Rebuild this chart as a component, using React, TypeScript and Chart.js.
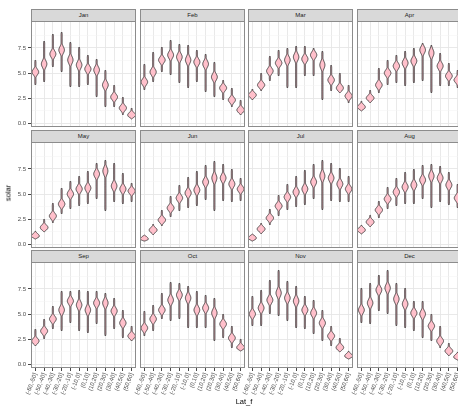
import React, { useEffect, useRef } from "react";
import { Chart, registerables } from "chart.js";

Chart.register(...registerables);

// ---------- categories / labels ----------
const MONTHS = ["Jan", "Feb", "Mar", "Apr", "May", "Jun", "Jul", "Aug", "Sep", "Oct", "Nov", "Dec"];
const LAT_LABELS = [
  "(-60,-50]", "(-50,-40]", "(-40,-30]", "(-30,-20]", "(-20,-10]", "(-10,0]",
  "(0,10]", "(10,20]", "(20,30]", "(30,40]", "(40,50]", "(50,60]",
];
const Y_MAJOR = [0, 2.5, 5, 7.5];
const Y_MINOR = [1.25, 3.75, 6.25, 8.75];
const Y_MIN = -0.4;
const Y_MAX = 10.2;

// ---------- violin values per month: lower end, bulge centre, upper end ----------
const JAN_LO = [3.8, 4.1, 5.6, 5.1, 3.6, 3.6, 3.8, 2.6, 1.6, 1.6, 0.8, 0.4];
const JAN_MID = [5.1, 5.9, 6.9, 7.3, 6.3, 5.8, 5.4, 5.3, 3.8, 2.6, 1.5, 0.8];
const JAN_HI = [6.3, 8.2, 8.9, 9.1, 8.1, 7.6, 6.8, 6.4, 5.3, 3.8, 2.6, 1.5];

const FEB_LO = [3.3, 4.1, 5.1, 4.8, 4.0, 3.5, 4.1, 3.1, 2.6, 2.3, 1.6, 0.8];
const FEB_MID = [4.1, 5.1, 6.3, 6.8, 6.6, 6.3, 6.1, 5.9, 4.6, 3.5, 2.3, 1.3];
const FEB_HI = [5.9, 7.1, 7.6, 8.3, 7.9, 7.8, 7.3, 6.9, 6.1, 4.3, 3.5, 2.3];

const MAR_LO = [2.3, 3.2, 4.2, 4.7, 3.5, 3.5, 4.7, 4.7, 2.3, 3.2, 3.0, 2.0];
const MAR_MID = [2.8, 3.8, 5.2, 6.0, 6.3, 6.6, 6.4, 6.8, 5.8, 4.3, 3.5, 2.7];
const MAR_HI = [3.4, 5.0, 6.7, 7.3, 7.5, 7.7, 7.7, 7.5, 7.2, 5.8, 5.0, 3.8];

const APR_LO = [1.2, 2.0, 3.0, 3.8, 4.0, 3.7, 4.0, 4.2, 3.0, 3.7, 3.7, 3.5];
const APR_MID = [1.6, 2.5, 3.8, 5.0, 5.7, 6.0, 6.2, 7.3, 7.0, 5.7, 4.7, 4.3];
const APR_HI = [2.2, 3.3, 5.5, 6.3, 6.8, 7.2, 7.5, 8.0, 7.8, 7.0, 6.0, 5.3];

const MAY_LO = [0.5, 1.2, 2.1, 3.0, 3.5, 3.8, 4.0, 4.5, 3.3, 4.2, 4.0, 4.2];
const MAY_MID = [0.8, 1.65, 2.8, 4.0, 5.0, 5.5, 5.6, 7.0, 7.3, 5.8, 5.5, 5.3];
const MAY_HI = [1.3, 2.5, 4.1, 5.6, 6.3, 6.8, 7.3, 8.1, 8.4, 8.1, 7.1, 6.1];

const JUN_LO = [0.3, 0.9, 1.8, 2.7, 3.3, 3.6, 3.8, 4.4, 3.3, 4.3, 4.2, 4.3];
const JUN_MID = [0.5, 1.4, 2.4, 3.6, 4.6, 5.1, 5.4, 6.2, 6.6, 6.6, 6.0, 5.5];
const JUN_HI = [0.9, 2.0, 3.4, 4.8, 5.9, 6.7, 7.3, 7.9, 8.3, 8.0, 7.5, 6.6];

const JUL_LO = [0.3, 1.0, 1.9, 2.8, 3.4, 3.7, 3.9, 4.5, 3.4, 4.3, 4.2, 4.2];
const JUL_MID = [0.6, 1.5, 2.6, 3.8, 4.7, 5.2, 5.5, 6.2, 6.8, 6.6, 6.0, 5.5];
const JUL_HI = [1.0, 2.1, 3.5, 4.9, 6.0, 6.8, 7.4, 8.0, 8.4, 8.1, 7.6, 6.8];

const AUG_LO = [1.0, 1.7, 2.6, 3.5, 3.8, 4.0, 4.0, 4.5, 3.6, 4.2, 3.9, 3.6];
const AUG_MID = [1.4, 2.2, 3.4, 4.5, 5.2, 5.7, 5.9, 6.4, 6.8, 6.6, 5.9, 4.6];
const AUG_HI = [1.9, 2.9, 4.3, 5.7, 6.6, 7.2, 7.5, 7.9, 8.0, 7.8, 7.2, 6.0];

const SEP_LO = [1.8, 2.5, 3.5, 3.3, 4.1, 3.3, 3.1, 4.0, 2.8, 3.5, 2.6, 2.3];
const SEP_MID = [2.3, 3.3, 4.5, 5.4, 6.3, 5.9, 5.4, 6.1, 6.1, 5.3, 4.1, 2.8];
const SEP_HI = [3.5, 4.5, 5.8, 7.3, 7.3, 7.4, 7.3, 7.3, 7.1, 6.6, 5.4, 3.8];

const OCT_LO = [2.8, 3.3, 4.5, 4.3, 4.5, 3.6, 3.6, 3.6, 2.3, 2.6, 1.6, 1.3];
const OCT_MID = [3.6, 4.5, 5.4, 6.4, 6.9, 6.6, 5.4, 5.6, 5.1, 4.0, 2.6, 1.65];
const OCT_HI = [5.3, 5.9, 7.1, 8.2, 8.1, 7.8, 7.3, 6.9, 6.6, 5.0, 3.8, 2.5];

const NOV_LO = [3.8, 3.8, 5.0, 4.8, 4.3, 3.6, 3.5, 3.0, 2.3, 1.8, 1.2, 0.5];
const NOV_MID = [5.0, 5.6, 6.4, 7.1, 6.6, 6.3, 5.4, 5.1, 4.1, 2.8, 1.65, 0.8];
const NOV_HI = [6.8, 7.4, 8.4, 9.4, 8.3, 7.8, 6.8, 6.4, 5.4, 3.8, 2.6, 1.3];

const DEC_LO = [4.1, 4.0, 5.3, 5.0, 3.8, 3.6, 3.3, 2.6, 2.3, 1.6, 0.8, 0.4];
const DEC_MID = [5.4, 6.1, 7.4, 7.6, 6.5, 6.0, 5.1, 5.0, 3.8, 2.3, 1.3, 0.7];
const DEC_HI = [7.6, 8.1, 8.9, 9.4, 8.1, 7.6, 6.3, 6.3, 5.0, 3.8, 2.1, 1.2];

const MONTH_TABLE = [
  [JAN_LO, JAN_MID, JAN_HI], [FEB_LO, FEB_MID, FEB_HI], [MAR_LO, MAR_MID, MAR_HI],
  [APR_LO, APR_MID, APR_HI], [MAY_LO, MAY_MID, MAY_HI], [JUN_LO, JUN_MID, JUN_HI],
  [JUL_LO, JUL_MID, JUL_HI], [AUG_LO, AUG_MID, AUG_HI], [SEP_LO, SEP_MID, SEP_HI],
  [OCT_LO, OCT_MID, OCT_HI], [NOV_LO, NOV_MID, NOV_HI], [DEC_LO, DEC_MID, DEC_HI],
];

// ---------- layout ----------
const FIG_W = 458;
const FIG_H = 406;
const COL_LEFT = [31, 140, 248, 357];
const PANEL_W = 105;
const STRIP_TOP = [9, 130, 250];
const STRIP_H = 12;
const PANEL_H = 106;
const FONT = "'Liberation Sans', Arial, Helvetica, sans-serif";
const BORDER = "#8c8c8c";

const violinPlugin = {
  id: "violins",
  afterDatasetsDraw(chart: any) {
    const ds = chart.data.datasets[0];
    const xS = chart.scales.x;
    const yS = chart.scales.y;
    const ctx = chart.ctx;
    const step = Math.abs(xS.getPixelForValue(1) - xS.getPixelForValue(0));
    const maxHalf = step * 0.45;
    ctx.save();
    ctx.beginPath();
    ctx.rect(chart.chartArea.left, chart.chartArea.top, chart.chartArea.right - chart.chartArea.left, chart.chartArea.bottom - chart.chartArea.top);
    ctx.clip();
    ds.data.forEach((pair: number[], i: number) => {
      const lo = pair[0];
      const hi = pair[1];
      const mid = ds.mids[i];
      const x = xS.getPixelForValue(i);
      const range = hi - lo;
      const s = 0.2 + 0.035 * range;
      const wb = Math.min(maxHalf, 0.95 / s);
      const thin = 0.55;
      const N = 70;
      const r = Math.min(0.2, range / 4);
      const left: number[][] = [];
      const right: number[][] = [];
      for (let k = 0; k <= N; k++) {
        const v = lo + (range * k) / N;
        const z = (v - mid) / s;
        let w = Math.max(wb * Math.exp(-0.5 * z * z), thin);
        const e = Math.min(v - lo, hi - v);
        if (e < r) w *= Math.sqrt(Math.max(0, e / r));
        const y = yS.getPixelForValue(v);
        left.push([x - w, y]);
        right.push([x + w, y]);
      }
      ctx.beginPath();
      ctx.moveTo(left[0][0], left[0][1]);
      for (let k = 1; k < left.length; k++) ctx.lineTo(left[k][0], left[k][1]);
      for (let k = right.length - 1; k >= 0; k--) ctx.lineTo(right[k][0], right[k][1]);
      ctx.closePath();
      ctx.fillStyle = "#FFC0CB";
      ctx.fill();
      ctx.lineWidth = 0.8;
      ctx.strokeStyle = "#262626";
      ctx.stroke();
    });
    ctx.restore();
  },
  afterDraw(chart: any) {
    const a = chart.chartArea;
    const ctx = chart.ctx;
    ctx.save();
    ctx.strokeStyle = BORDER;
    ctx.lineWidth = 1;
    ctx.strokeRect(a.left + 0.5, a.top + 0.5, a.right - a.left - 1, a.bottom - a.top - 1);
    ctx.restore();
  },
};

const isMajor = (v: number) => Y_MAJOR.indexOf(v) >= 0;

function Panel({ m, r, c }: { m: number; r: number; c: number }) {
  const ref = useRef<HTMLCanvasElement>(null);
  const isLeft = c === 0;
  const isBottom = r === 2;
  const extL = isLeft ? COL_LEFT[0] : isBottom ? 14 : 0;
  const panelTop = STRIP_TOP[r] + STRIP_H;
  const extB = isBottom ? FIG_H - (panelTop + PANEL_H) : 0;
  const w = PANEL_W + extL;
  const h = PANEL_H + extB;

  useEffect(() => {
    const [lo, mid, hi] = MONTH_TABLE[m];
    const chart = new Chart(ref.current as HTMLCanvasElement, {
      type: "bar",
      data: {
        labels: LAT_LABELS,
        datasets: [
          {
            data: lo.map((l: number, i: number) => [l, hi[i]]),
            mids: mid,
            backgroundColor: "rgba(0,0,0,0)",
            borderWidth: 0,
          } as any,
        ],
      },
      options: {
        responsive: false,
        animation: false,
        devicePixelRatio: 1,
        layout: { padding: 0 },
        plugins: { legend: { display: false }, tooltip: { enabled: false }, title: { display: false } },
        scales: {
          x: {
            type: "category",
            offset: true,
            grid: {
              offset: false,
              color: "#e6e6e6",
              lineWidth: 0.9,
              drawTicks: isBottom,
              tickLength: 3,
              tickColor: "#333333",
            },
            border: { display: false },
            ticks: {
              display: isBottom,
              autoSkip: false,
              minRotation: 70,
              maxRotation: 70,
              padding: 1,
              color: "#4d4d4d",
              font: { size: 6, family: FONT },
            },
            afterFit(s: any) {
              s.height = extB;
              s.paddingLeft = 0;
              s.paddingRight = 0;
              s.paddingTop = 0;
              s.paddingBottom = 0;
            },
          } as any,
          y: {
            type: "linear",
            min: Y_MIN,
            max: Y_MAX,
            afterBuildTicks(s: any) {
              s.ticks = [...Y_MAJOR, ...Y_MINOR].sort((a, b) => a - b).map((v) => ({ value: v }));
            },
            ticks: {
              display: isLeft,
              padding: 2,
              color: "#4d4d4d",
              font: { size: 6, family: FONT },
              callback: (v: any) => (isMajor(Number(v)) ? Number(v).toFixed(1) : ""),
            },
            grid: {
              color: (ctx: any) => (ctx.tick && isMajor(ctx.tick.value) ? "#e6e6e6" : "#f2f2f2"),
              lineWidth: (ctx: any) => (ctx.tick && isMajor(ctx.tick.value) ? 0.9 : 0.5),
              drawTicks: isLeft,
              tickLength: 3,
              tickColor: (ctx: any) => (ctx.tick && isMajor(ctx.tick.value) ? "#333333" : "rgba(0,0,0,0)"),
            },
            border: { display: false },
            afterFit(s: any) {
              s.width = extL;
              s.paddingTop = 0;
              s.paddingBottom = 0;
              s.paddingLeft = 0;
              s.paddingRight = 0;
            },
          } as any,
        },
      },
      plugins: [violinPlugin],
    } as any);
    return () => chart.destroy();
  }, []);

  return (
    <canvas
      ref={ref}
      width={w}
      height={h}
      style={{ position: "absolute", left: COL_LEFT[c] - extL, top: panelTop, width: w, height: h }}
    />
  );
}

export default function App() {
  return (
    <div
      style={{
        position: "absolute",
        left: 0,
        top: 0,
        width: FIG_W,
        height: FIG_H,
        overflow: "hidden",
        background: "#ffffff",
        fontFamily: FONT,
      }}
    >
      {MONTHS.map((name, m) => {
        const r = Math.floor(m / 4);
        const c = m % 4;
        return (
          <React.Fragment key={name}>
            <Panel m={m} r={r} c={c} />
            <div
              style={{
                position: "absolute",
                left: COL_LEFT[c],
                top: STRIP_TOP[r],
                width: PANEL_W,
                height: STRIP_H + 1,
                boxSizing: "border-box",
                border: `1px solid ${BORDER}`,
                background: "#d9d9d9",
                color: "#1a1a1a",
                fontSize: 6,
                lineHeight: `${STRIP_H - 1}px`,
                textAlign: "center",
              }}
            >
              {name}
            </div>
          </React.Fragment>
        );
      })}
      <div
        style={{
          position: "absolute",
          left: 8,
          top: 193,
          transform: "translate(-50%, -50%) rotate(-90deg)",
          fontSize: 7.5,
          color: "#000",
          whiteSpace: "nowrap",
        }}
      >
        solar
      </div>
      <div
        style={{
          position: "absolute",
          left: 244,
          top: 401,
          transform: "translate(-50%, -50%)",
          fontSize: 7.5,
          color: "#000",
          whiteSpace: "nowrap",
        }}
      >
        Lat_f
      </div>
    </div>
  );
}
